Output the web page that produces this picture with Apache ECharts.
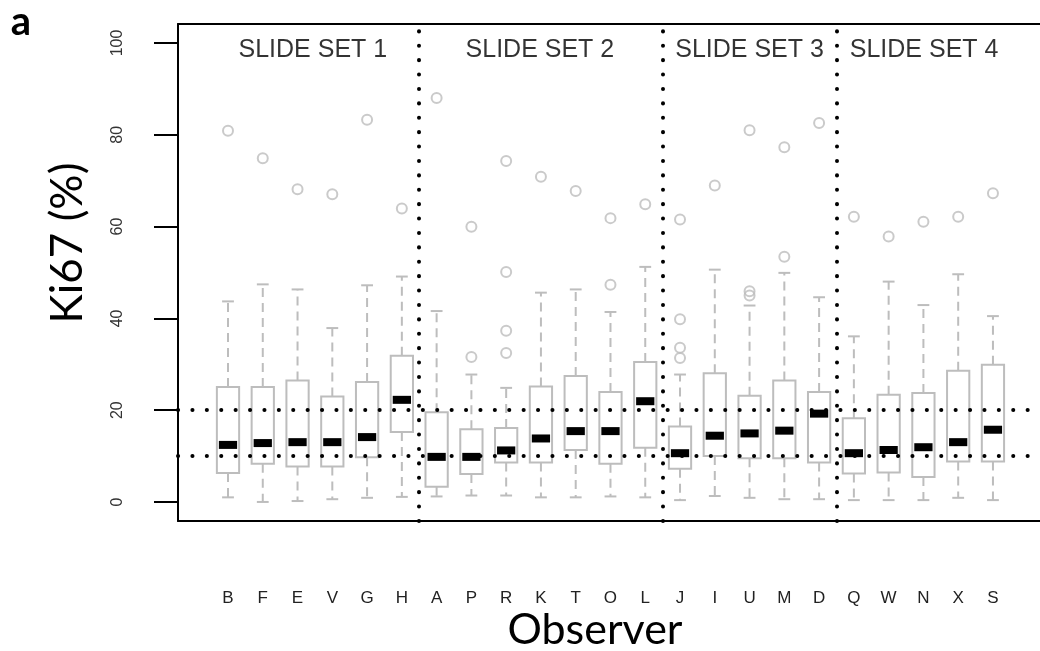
<!DOCTYPE html>
<html>
<head>
<meta charset="utf-8">
<script src="https://cdn.jsdelivr.net/npm/echarts@6/dist/echarts.min.js"></script>
<style>
  html, body { margin: 0; padding: 0; background: #fff; }
  #chart { width: 1040px; height: 651px; }
</style>
</head>
<body>
<div id="chart"></div>
<script>
// observers in plotting order
const observers = ['B', 'F', 'E', 'V', 'G', 'H', 'A', 'P', 'R', 'K', 'T', 'O', 'L', 'J', 'I', 'U', 'M', 'D', 'Q', 'W', 'N', 'X', 'S'];

// box statistics, Ki67 %
const whiskerLow = [1.0, 0.0, 0.2, 0.6, 0.9, 1.1, 1.2, 1.4, 1.4, 1.0, 1.0, 1.2, 1.0, 0.4, 1.3, 0.9, 0.6, 0.6, 0.4, 0.4, 0.4, 0.9, 0.4];
const q1 = [6.3, 8.3, 7.7, 7.7, 9.7, 15.2, 3.3, 6.1, 8.6, 8.6, 11.3, 8.3, 11.8, 7.2, 10.0, 9.5, 9.5, 8.6, 6.2, 6.4, 5.4, 8.8, 8.8];
const median = [12.4, 12.8, 13.0, 13.0, 14.1, 22.2, 9.8, 9.8, 11.2, 13.8, 15.4, 15.4, 21.9, 10.6, 14.4, 14.9, 15.5, 19.2, 10.6, 11.3, 11.9, 13.0, 15.7];
const q3 = [25.0, 25.0, 26.4, 22.9, 26.1, 31.8, 19.5, 15.8, 16.1, 25.1, 27.4, 23.9, 30.4, 16.4, 28.0, 23.1, 26.4, 23.9, 18.2, 23.3, 23.7, 28.5, 29.8];
const whiskerHigh = [43.6, 47.3, 46.2, 37.8, 47.1, 49.0, 41.5, 27.7, 24.8, 45.5, 46.2, 41.3, 51.1, 27.7, 50.5, 42.7, 49.8, 44.5, 36.0, 47.9, 42.8, 49.5, 40.4];
const outliers = [
  [80.7], [74.7], [68.0], [66.9], [83.1], [63.8],
  [87.8], [59.8, 31.5], [74.1, 50.0, 37.2, 32.4], [70.7], [67.6], [61.7, 47.2], [64.7],
  [61.4, 39.7, 33.5, 31.3], [68.8], [80.8, 45.8, 44.9], [77.1, 53.3], [82.4],
  [62.0], [57.7], [60.9], [62.0], [67.1]
];

// slide set annotations and reference lines
const slideSets = ['SLIDE SET 1', 'SLIDE SET 2', 'SLIDE SET 3', 'SLIDE SET 4'];
const slideSetPos = [2.44, 8.97, 15.0, 20.02];
const setBoundaries = [5.5, 12.5, 17.5];
const cutoffs = [10, 20];

const boxData = observers.map((o, i) => [i, whiskerLow[i], q1[i], median[i], q3[i], whiskerHigh[i]]);
const outlierData = [];
outliers.forEach((vals, i) => vals.forEach(v => outlierData.push([i, v])));

const gray = '#bdbdbd';
const xMin = -1.438, xMax = 23.353;
const yMin = -4.14, yMax = 103.9;

function renderBox(params, api) {
  const i = api.value(0);
  const lo = api.coord([i, api.value(1)]);
  const b1 = api.coord([i, api.value(2)]);
  const md = api.coord([i, api.value(3)]);
  const b3 = api.coord([i, api.value(4)]);
  const hi = api.coord([i, api.value(5)]);
  const boxW = api.size([0.64, 0])[0];
  const capW = api.size([0.34, 0])[0];
  const x = lo[0];
  const dashed = { stroke: gray, lineWidth: 2, lineDash: [9, 6] };
  const solid = { stroke: gray, lineWidth: 2 };
  return {
    type: 'group',
    children: [
      { type: 'line', shape: { x1: x, y1: b3[1], x2: x, y2: hi[1] }, style: dashed },
      { type: 'line', shape: { x1: x, y1: b1[1], x2: x, y2: lo[1] }, style: dashed },
      { type: 'line', shape: { x1: x - capW / 2, y1: hi[1], x2: x + capW / 2, y2: hi[1] }, style: solid },
      { type: 'line', shape: { x1: x - capW / 2, y1: lo[1], x2: x + capW / 2, y2: lo[1] }, style: solid },
      { type: 'rect', shape: { x: x - boxW / 2, y: b3[1], width: boxW, height: b1[1] - b3[1] },
        style: { fill: 'none', stroke: gray, lineWidth: 2 } },
      { type: 'rect', shape: { x: x - boxW / 2 + 2, y: md[1] - 4, width: boxW - 4, height: 8 },
        style: { fill: '#000' } }
    ]
  };
}

const frameAxis = {
  axisLine: { show: true, onZero: false, lineStyle: { color: '#000', width: 2 } },
  axisTick: { show: false }, axisLabel: { show: false }, splitLine: { show: false }
};

const chart = echarts.init(document.getElementById('chart'), null, { renderer: 'canvas' });

const option = {
  animation: false,
  backgroundColor: '#fff',
  grid: [
    // data frame, open on the right like the original
    { left: 178, right: 0, top: 24, bottom: 130 },
    // y tick axis, 0..100
    { left: 178, top: 43, height: 459, width: 100 },
    // x tick axis, one slot per observer
    { left: 210.61, width: 799.73, top: 24, bottom: 130 }
  ],
  xAxis: [
    Object.assign({ gridIndex: 0, type: 'value', min: xMin, max: xMax, position: 'bottom' }, frameAxis),
    { gridIndex: 1, type: 'value', show: false },
    {
      gridIndex: 2, type: 'category', data: observers, boundaryGap: true,
      axisLine: { show: false },
      axisTick: { alignWithLabel: true, length: 24, lineStyle: { color: '#000', width: 1.5 } },
      axisLabel: { margin: 69, fontSize: 17, color: '#222', fontFamily: 'Liberation Sans' },
      splitLine: { show: false }
    },
    Object.assign({ gridIndex: 0, type: 'value', min: xMin, max: xMax, position: 'top' }, frameAxis)
  ],
  yAxis: [
    Object.assign({ gridIndex: 0, type: 'value', min: yMin, max: yMax, position: 'left' }, frameAxis),
    {
      gridIndex: 1, type: 'value', min: 0, max: 100, interval: 20,
      axisLine: { show: false },
      axisTick: { length: 24, lineStyle: { color: '#000', width: 2 } },
      axisLabel: { rotate: 90, margin: 52, fontSize: 16, color: '#333', fontFamily: 'Liberation Sans' },
      splitLine: { show: false }
    },
    { gridIndex: 2, type: 'value', show: false }
  ],
  series: [
    {
      type: 'custom', xAxisIndex: 0, yAxisIndex: 0,
      renderItem: renderBox, data: boxData, silent: true
    },
    {
      type: 'scatter', xAxisIndex: 0, yAxisIndex: 0,
      data: outlierData, symbol: 'circle', symbolSize: 10,
      itemStyle: { color: 'rgba(0,0,0,0)', borderColor: gray, borderWidth: 2 },
      silent: true
    },
    {
      type: 'scatter', xAxisIndex: 0, yAxisIndex: 0,
      data: slideSetPos.map(x => [x, 98.2]), symbolSize: 0, silent: true,
      label: {
        show: true, position: 'inside', fontSize: 25, color: '#000', fontFamily: 'Liberation Sans',
        formatter: p => slideSets[p.dataIndex]
      },
      markLine: {
        silent: true, symbol: ['none', 'none'], label: { show: false },
        lineStyle: { color: '#000', width: 4, type: [0.1, 14.3], cap: 'round' },
        data: setBoundaries.map(v => ({ xAxis: v })).concat(cutoffs.map(v => ({ yAxis: v })))
      }
    }
  ],
  graphic: [
    { type: 'text', x: 21, y: 22, style: { text: 'a', font: 'bold 40px Lato', fill: '#000', align: 'center', verticalAlign: 'middle' } },
    { type: 'text', x: 68, y: 243, rotation: Math.PI / 2, style: { text: 'Ki67 (%)', font: '44px Lato', fill: '#000', align: 'center', verticalAlign: 'middle' } },
    { type: 'text', x: 595, y: 630, style: { text: 'Observer', font: '43px Lato', fill: '#000', align: 'center', verticalAlign: 'middle' } }
  ]
};

chart.setOption(option);
</script>
</body>
</html>
